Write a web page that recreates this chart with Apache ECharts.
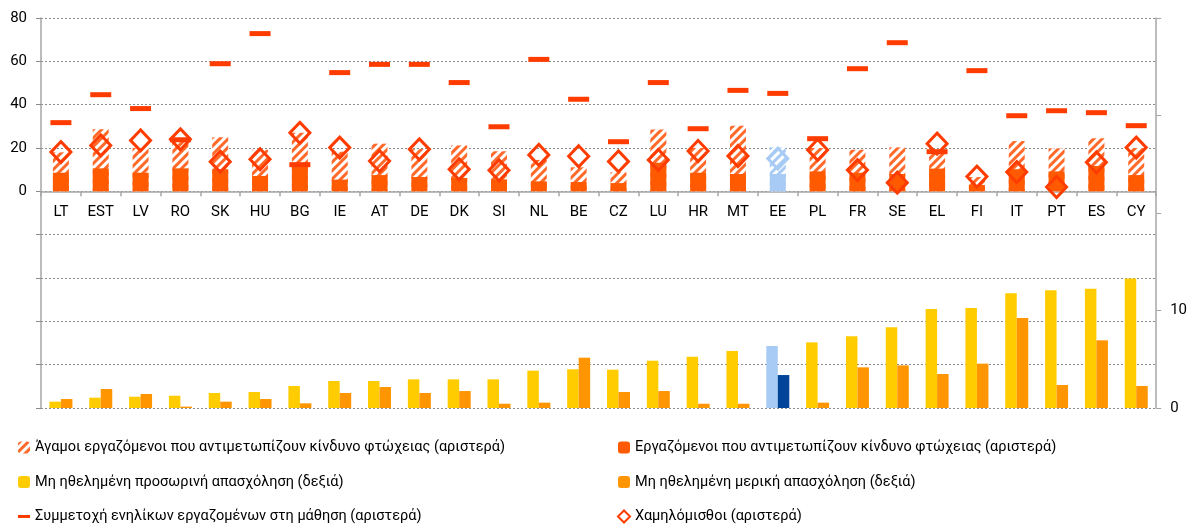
<!DOCTYPE html>
<html>
<head>
<meta charset="utf-8">
<script src="https://cdn.jsdelivr.net/npm/echarts@6/dist/echarts.min.js"></script>
<style>
html,body{margin:0;padding:0;background:#fff;}
#chart{width:1190px;height:524px;}
</style>
</head>
<body>
<div id="chart"></div>
<script>
// ---- data ----
const categories = ['LT','EST','LV','RO','SK','HU','BG','IE','AT','DE','DK','SI','NL','BE','CZ','LU','HR','MT','EE','PL','FR','SE','EL','FI','IT','PT','ES','CY'];
const highlightCategory = 'EE';

// left axis (%)
const singleWorkersPoverty = [18,28.6,20,24,25,19.2,27,18.3,22,19.5,21.2,18.5,14.5,11.1,8.8,28.5,20,30.3,20.3,20,19.2,20.3,19,6.6,23.2,19.8,24.5,20];
const workersPoverty = [8.6,10.6,8.6,10.6,10.2,7.1,12,5.4,7.5,6.6,6.2,5.5,4.6,4.3,3.8,13.2,8.6,8,8,9.2,8.6,8,10.5,2.9,10.2,9.2,11.7,7.5];
const adultLearning = [31.7,44.6,38.2,23.8,58.9,72.8,12.3,54.8,58.6,58.6,50.2,29.8,60.9,42.5,22.9,50.2,28.9,46.6,45.2,24.3,56.6,68.6,18.3,55.7,34.9,37.2,36.3,30.3];
const lowWage = [18.1,21.2,23.5,24,13.7,14.8,27,20.2,14,19.4,10.2,9.7,16.8,16.2,13.8,14.5,18.6,16.3,15.1,19.1,9.8,4,22,6.8,8.9,2,13.4,20.2];
// right axis (%)
const involuntaryTemporary = [0.65,1.06,1.16,1.26,1.54,1.64,2.26,2.77,2.77,2.94,2.94,2.94,3.83,3.97,3.93,4.85,5.26,5.85,6.36,6.73,7.35,8.27,10.15,10.26,11.76,12.07,12.24,13.27];
const involuntaryPartTime = [0.92,1.95,1.44,0.14,0.65,0.92,0.48,1.54,2.15,1.54,1.74,0.44,0.55,5.16,1.64,1.74,0.44,0.44,3.38,0.55,4.17,4.37,3.49,4.55,9.23,2.36,6.94,2.26];

const leftTicks = {min:-100, max:80, interval:20};
const rightTicks = {min:0, max:40, interval:10};

const seriesNames = [
  'Άγαμοι εργαζόμενοι που αντιμετωπίζουν κίνδυνο φτώχειας (αριστερά)',
  'Εργαζόμενοι που αντιμετωπίζουν κίνδυνο φτώχειας (αριστερά)',
  'Μη ηθελημένη προσωρινή απασχόληση (δεξιά)',
  'Μη ηθελημένη μερική απασχόληση (δεξιά)',
  'Συμμετοχή ενηλίκων εργαζομένων στη μάθηση (αριστερά)',
  'Χαμηλόμισθοι (αριστερά)'
];

// ---- styles / layout ----
const FONT = 'Roboto, "Liberation Sans", sans-serif';
const C_SOLID = '#ff5a00';
const C_HATCH = '#ff6a2a';
const C_RED = '#ff3c00';
const C_YELLOW = '#ffcc00';
const C_ORANGE = '#ff9500';
const C_LIGHTBLUE = '#a8cbf5';
const C_DARKBLUE = '#00449a';
const GRID_COLOR = '#8a8a8a';
const AXIS_COLOR = '#a6a6a6';
const GRID = {left:41, right:33, top:18, bottom:116};
const gridHeight = 524 - GRID.top - GRID.bottom;
// move the category axis up to the left axis' zero line
const zeroOffset = -gridHeight * (0 - leftTicks.min) / (leftTicks.max - leftTicks.min);

function hatch(color){
  return {symbol:'rect', symbolSize:1, dashArrayX:[1,0], dashArrayY:[3,3], rotation:-Math.PI/4, color:color};
}
function mark(arr, fn){
  return arr.map((v,i)=> categories[i]===highlightCategory ? fn(v) : v);
}

const chart = echarts.init(document.getElementById('chart'), null, {renderer:'canvas'});
const legendText = {color:'#000', fontSize:14.5, fontFamily:FONT};
const option = {
  animation:false,
  backgroundColor:'#fff',
  textStyle:{fontFamily:FONT},
  grid:Object.assign({containLabel:false}, GRID),
  xAxis:[
    {type:'category', data:categories, gridIndex:0, position:'bottom', offset:zeroOffset,
     axisLine:{show:true, onZero:false, lineStyle:{color:AXIS_COLOR, width:1.5}},
     axisTick:{show:true, length:5, lineStyle:{color:AXIS_COLOR, width:1.5}},
     axisLabel:{interval:0, margin:13, color:'#000', fontSize:15, fontFamily:FONT},
     splitLine:{show:false}},
    {type:'category', data:categories, gridIndex:0, show:false, position:'bottom',
     axisLine:{onZero:false}}
  ],
  yAxis:[
    {type:'value', min:leftTicks.min, max:leftTicks.max, interval:leftTicks.interval, position:'left',
     axisLine:{show:true, lineStyle:{color:AXIS_COLOR, width:1.5}},
     axisTick:{show:true, length:5, lineStyle:{color:GRID_COLOR}},
     axisLabel:{margin:14, color:'#000', fontSize:15, fontFamily:FONT, formatter:v=> v>=0 ? String(v) : ''},
     splitLine:{show:true, lineStyle:{color:GRID_COLOR, type:[2,2], width:1}}},
    {type:'value', min:rightTicks.min, max:rightTicks.max, interval:rightTicks.interval, position:'right',
     axisLine:{show:true, lineStyle:{color:AXIS_COLOR, width:1.5}},
     axisTick:{show:true, length:5, lineStyle:{color:AXIS_COLOR}},
     axisLabel:{margin:14, color:'#000', fontSize:15, fontFamily:FONT, formatter:v=> v<=10 ? String(v) : ''},
     splitLine:{show:false}}
  ],
  legend:[
    {orient:'vertical', left:18, top:440, padding:0, itemWidth:12, itemHeight:12, itemGap:19.5,
     textStyle:legendText,
     data:[
       {name:seriesNames[0]},
       {name:seriesNames[2]},
       {name:seriesNames[4], icon:'path://M0,0 M12,12 M0,4.5 L12,4.5 L12,7.5 L0,7.5 Z'}
     ]},
    {orient:'vertical', left:617, top:440, padding:0, itemWidth:12, itemHeight:12, itemGap:19.5,
     textStyle:legendText,
     data:[
       {name:seriesNames[1]},
       {name:seriesNames[3]},
       {name:seriesNames[5]}
     ]}
  ],
  series:[
    {name:seriesNames[0], type:'bar', xAxisIndex:0, yAxisIndex:0, barWidth:16, barGap:'-100%',
     itemStyle:{color:'#ffffff', decal:hatch(C_HATCH)},
     data:mark(singleWorkersPoverty, v=>({value:v, itemStyle:{color:'#ffffff', decal:hatch(C_LIGHTBLUE)}}))},
    {name:seriesNames[1], type:'bar', xAxisIndex:0, yAxisIndex:0, barWidth:16, barGap:'-100%',
     itemStyle:{color:C_SOLID},
     data:mark(workersPoverty, v=>({value:v, itemStyle:{color:C_LIGHTBLUE}}))},
    {name:seriesNames[2], type:'bar', xAxisIndex:1, yAxisIndex:1, barWidth:11.5, barGap:'0%',
     itemStyle:{color:C_YELLOW},
     data:mark(involuntaryTemporary, v=>({value:v, itemStyle:{color:C_LIGHTBLUE}}))},
    {name:seriesNames[3], type:'bar', xAxisIndex:1, yAxisIndex:1, barWidth:11.5, barGap:'0%',
     itemStyle:{color:C_ORANGE},
     data:mark(involuntaryPartTime, v=>({value:v, itemStyle:{color:C_DARKBLUE}}))},
    {name:seriesNames[5], type:'scatter', xAxisIndex:0, yAxisIndex:0, symbol:'diamond', symbolSize:[20,21],
     itemStyle:{color:'rgba(255,255,255,0)', borderColor:C_RED, borderWidth:3, opacity:1},
     data:mark(lowWage, v=>({value:v, itemStyle:{borderColor:C_LIGHTBLUE}}))},
    {name:seriesNames[4], type:'scatter', xAxisIndex:0, yAxisIndex:0, symbol:'rect', symbolSize:[21,5],
     itemStyle:{color:C_RED, opacity:1},
     data:adultLearning}
  ]
};
chart.setOption(option);
</script>
</body>
</html>
